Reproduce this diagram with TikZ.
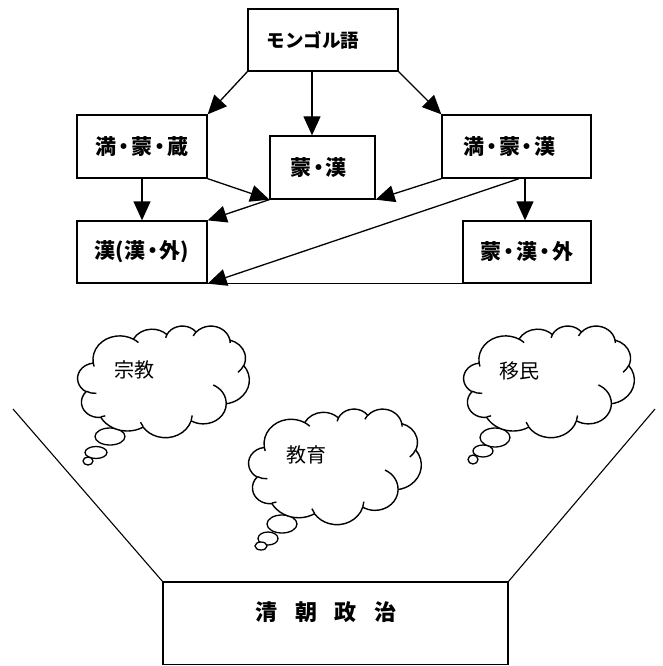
\documentclass[tikz,border=0pt]{standalone}
\usepackage{fontspec}
\newfontfamily\jp{Noto Sans CJK JP}
\usetikzlibrary{arrows.meta,shapes.geometric}

% narrow middle dot used between the language names
\newcommand\nd{\makebox[0.7em]{・}}

% elliptical arc in the style of a preset-shape arcTo:
% #1,#2 = radii, #3 = start angle, #4 = sweep (visual angles, degrees)
\newcommand\ooarc[4]{%
  \pgfmathsetmacro\oots{atan2((#1)*sin(#3),(#2)*cos(#3))}%
  \pgfmathsetmacro\ooend{atan2((#1)*sin((#3)+(#4)),(#2)*cos((#3)+(#4)))}%
  \pgfmathsetmacro\ood{\ooend-\oots}%
  \pgfmathsetmacro\ood{\ood+360*((#4)>0)*(\ood<0)-360*((#4)<0)*(\ood>0)}%
}
\newcommand\oa[4]{\pgfextra{\ooarc{#1}{#2}{#3}{#4}}
  arc[start angle=\oots, delta angle=\ood, x radius=#1, y radius=#2]}

% thought cloud in a 4320 x 4320 box; #1,#2 = top-left corner, #3,#4 = size
\newcommand\thoughtcloud[4]{%
  \pgfmathsetmacro\cldx{#3/4320}%
  \pgfmathsetmacro\cldy{#4/4320}%
  \begin{scope}[shift={(#1,#2)}, x=\cldx pt, y=-\cldy pt]
    \draw[cloudline, fill=white] (390,1437)
      \oa{675.3}{919.0}{-190.4875}{123.7805}
      \oa{533.3}{726.7}{-144.1024}{89.9452}
      \oa{436.5}{594.5}{-145.8079}{99.7230}
      \oa{485.7}{659.5}{-130.9861}{117.2417}
      \oa{533.3}{727.3}{-78.7089}{109.0269}
      \oa{677.5}{922.0}{-46.2673}{130.2690}
      \oa{578.5}{786.7}{0.6250}{114.0333}
      \oa{675.2}{921.5}{22.4516}{115.1726}
      \oa{772.0}{1054.3}{66.2426}{75.7110}
      \oa{436.0}{591.8}{-274.9421}{146.7356}
      \oa{434.5}{594.5}{-246.8285}{152.5189}
      -- cycle;
    \draw[cloudline]
      (469.3,2617.7) \oa{434.5}{594.5}{86.7420}{26.4295}
      (692.8,3489.9) \oa{436.0}{591.8}{73.6105}{11.4475}
      (1647.8,3909.0) \oa{675.2}{921.5}{137.6242}{14.0811}
      (2882.7,3475.1) \oa{675.2}{921.5}{6.4533}{15.9984}
      (3412.9,2295.4) \oa{578.5}{786.7}{-70.2924}{70.9174}
      (4179.8,1535.4) \oa{533.3}{727.3}{30.3180}{27.7515}
      (3832.4,542.6) \oa{485.7}{659.5}{-13.7443}{14.8589}
      (2907.8,395.2) \oa{485.7}{659.5}{-149.1815}{18.1954}
      (2214.1,472.0) \oa{436.5}{594.5}{-163.4943}{17.6864}
      (1400.0,519.2) \oa{675.3}{919.0}{-66.7070}{12.3194}
      (412.7,1578.9) \oa{675.3}{919.0}{157.6544}{11.8582};
  \end{scope}%
}

\tikzset{
  langbox/.style={draw, line width=1.3pt, inner sep=0pt, font=\jp\bfseries\fontsize{21pt}{23pt}\selectfont},
  flow/.style={line width=1.3pt, -{Triangle[length=19pt,width=17pt]}},
  plain/.style={line width=1.3pt},
  cloudline/.style={line width=1.4pt, line join=round},
  bubble/.style={ellipse, draw, line width=1.3pt, fill=white, inner sep=0pt},
  cloudtext/.style={font=\jp\fontsize{20pt}{22pt}\selectfont},
  funnel/.style={line width=1.1pt}
}

\begin{document}
\begin{tikzpicture}[x=1pt,y=-1pt]
\useasboundingbox (0,0) rectangle (663,666);

% language boxes
\node[langbox, minimum width=150pt, minimum height=62pt,
      font=\jp\bfseries\fontsize{18.5pt}{20pt}\selectfont] (A) at (323,40) {モンゴル語\kern20pt};
\node[langbox, minimum width=130pt, minimum height=63pt] (B) at (142,146.5) {満\nd 蒙\nd 蔵};
\node[langbox, minimum width=105pt, minimum height=63pt] (C) at (322.5,167.5) {蒙\nd 漢\kern8pt};
\node[langbox, minimum width=149pt, minimum height=63pt] (D) at (516.5,146.5) {満\nd 蒙\nd 漢\kern14pt};
\node[langbox, minimum width=130pt, minimum height=62pt] (E) at (142,252) {漢(漢\nd 外)};
\node[langbox, minimum width=128pt, minimum height=62pt] (F) at (527,252) {蒙\nd 漢\nd 外};

% connectors between the language boxes
\draw[flow] (A.south west) -- (B.north east);
\draw[flow] ([xshift=-11pt]A.south) -- ([xshift=-10.5pt]C.north);
\draw[flow] (A.south east) -- (D.north west);
\draw[flow] (B.south) -- (E.north);
\draw[flow] (B.south east) -- (C.south west);
\draw[flow] (D.south west) -- (C.south east);
\draw[flow] (C.south west) -- (E.north east);
\draw[flow] ([xshift=2.5pt]D.south) -- (E.south east);
\draw[flow] ([xshift=-2pt]F.north |- D.south) -- ([xshift=-2pt]F.north);
\draw[plain] (E.south east) -- (F.south west);

% thought clouds with their trailing bubbles
\node[bubble, minimum width=30pt, minimum height=17pt] (rb1) at (110,436.5) {};
\node[bubble, minimum width=22pt, minimum height=12pt] (rb2) at (96,452.5) {};
\node[bubble, minimum width=10pt, minimum height=8pt] (rb3) at (88,461) {};
\thoughtcloud{77.7}{325.7}{171.6}{111.6}
\node[cloudtext] (religion) at (134,370) {宗教};

\node[bubble, minimum width=30pt, minimum height=18pt] (eb1) at (282,524) {};
\node[bubble, minimum width=20pt, minimum height=13pt] (eb2) at (268,538.5) {};
\node[bubble, minimum width=12pt, minimum height=8pt] (eb3) at (261,546) {};
\thoughtcloud{248.7}{408.7}{172.6}{115.6}
\node[cloudtext] (education) at (306,455) {教育};

\node[bubble, minimum width=30pt, minimum height=19pt] (mb1) at (495,437.5) {};
\node[bubble, minimum width=20pt, minimum height=12pt] (mb2) at (483,451) {};
\node[bubble, minimum width=10pt, minimum height=9pt] (mb3) at (473,459.5) {};
\thoughtcloud{463.7}{325.7}{170.6}{111.6}
\node[cloudtext] (migration) at (519,371) {移民};

% funnel into the Qing politics box
\coordinate (boxTL) at (163,582);
\coordinate (boxTR) at (508,582);
\coordinate (boxBL) at (163,664.5);
\coordinate (boxBR) at (508,664.5);
\coordinate (funnelL) at (13,409);
\coordinate (funnelR) at (655,409);
\draw[funnel] (funnelL) -- (boxTL);
\draw[funnel] (funnelR) -- (boxTR);
\draw[plain] (boxBL) -- (boxTL) -- (boxTR) -- (boxBR);
\draw[line width=0.7pt] (boxBL) -- (boxBR);
\node[font=\jp\bfseries\fontsize{22pt}{24pt}\selectfont] (qing) at (326,612)
  {清\hspace{18pt}朝\hspace{18pt}政\hspace{18pt}治};
\end{tikzpicture}
\end{document}
